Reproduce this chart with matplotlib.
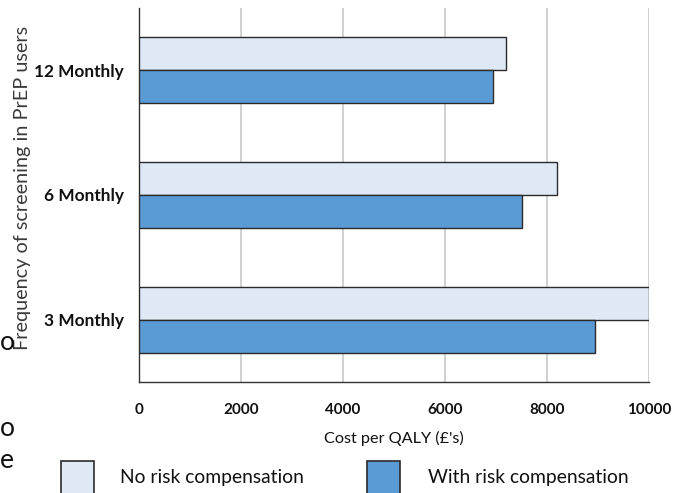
import matplotlib
matplotlib.use("Agg")
import matplotlib.pyplot as plt
from matplotlib.patches import Rectangle
import numpy as np

categories = ["3 Monthly", "6 Monthly", "12 Monthly"]
no_risk_comp = [10000, 8200, 7200]
with_risk_comp = [8950, 7500, 6950]
x_ticks = [0, 2000, 4000, 6000, 8000, 10000]
series_labels = ["No risk compensation", "With risk compensation"]

light_blue = "#DEE9F5"
mid_blue = "#5B9BD5"
edge_col = "#2b2b2b"
grid_col = "#c9c9c9"
font = "Lato"

W, H = 685, 493
fig = plt.figure(figsize=(W / 100, H / 100), dpi=100)
ax = fig.add_axes([139 / W, 1 - 382 / H, (649 - 139) / W, (382 - 8) / H])

y = np.arange(len(categories))
bh = 0.264
ax.barh(y + bh / 2, no_risk_comp, height=bh, color=light_blue,
        edgecolor=edge_col, linewidth=1.0, zorder=3)
ax.barh(y - bh / 2, with_risk_comp, height=bh, color=mid_blue,
        edgecolor=edge_col, linewidth=1.0, zorder=3)

ax.set_xlim(0, 10000)
ax.set_ylim(-0.5, 2.5)
ax.set_xticks(x_ticks)
ax.set_xticklabels([str(t) for t in x_ticks], fontfamily=font,
                   fontweight="bold", fontsize=11)
ax.set_yticks(y)
ax.set_yticklabels(categories, fontfamily=font, fontweight="bold",
                   fontsize=12.4)
ax.tick_params(axis="both", length=0, colors="#111111")
ax.tick_params(axis="x", pad=15)
ax.tick_params(axis="y", pad=11)

ax.xaxis.grid(True, color=grid_col, linewidth=1.2, zorder=0)
ax.set_axisbelow(True)
for s in ["top", "right"]:
    ax.spines[s].set_visible(False)
for s in ["left", "bottom"]:
    ax.spines[s].set_color("#333333")
    ax.spines[s].set_linewidth(1.0)

ax.set_xlabel("Cost per QALY (£'s)", fontfamily=font, fontsize=11.7,
              color="#111111", labelpad=10)
ax.set_ylabel("Frequency of screening in PrEP users", fontfamily=font,
              fontsize=14.3, color="#3a3a3a", labelpad=0)
ax.yaxis.set_label_coords(-(139 - 31) / (649 - 139), (382 - 188) / (382 - 8))

# legend drawn as boxes along the bottom edge
for x0, col, lab, tx in [(61, light_blue, series_labels[0], 120),
                         (367, mid_blue, series_labels[1], 428)]:
    fig.add_artist(Rectangle((x0 / W, -0.02), 33 / W, (493 - 461) / H + 0.02,
                             transform=fig.transFigure, facecolor=col,
                             edgecolor=edge_col, linewidth=1.2))
    fig.text(tx / W, 1 - 477 / H, lab, fontfamily=font, fontsize=13.9,
             va="center", ha="left", color="#111111")

# stray letters from the surrounding page
for ch, yy in [("o", 342), ("o", 428), ("e", 460)]:
    fig.text(0 / W, 1 - yy / H, ch, fontfamily=font, fontsize=19,
             va="center", ha="left", color="#111111")

fig.savefig("out.png", dpi=100)
